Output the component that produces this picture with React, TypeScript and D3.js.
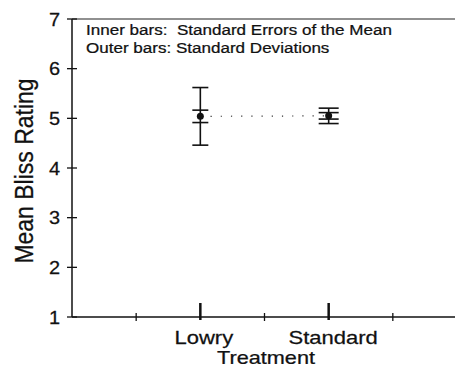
import React, { useEffect, useRef } from "react";
import * as d3 from "d3";

// data
const treatments = ["Lowry", "Standard"];
const treatmentPos = [2, 4];
const means = [5.04, 5.05];
const stdErrors = [0.125, 0.065];
const stdDevs = [0.58, 0.155];
const yTicks = [1, 2, 3, 4, 5, 6, 7];
const xMinorTicks = [1, 3, 5];
const noteLines = ["Inner bars:  Standard Errors of the Mean", "Outer bars: Standard Deviations"];

const App: React.FC = () => {
    const svgRef = useRef<SVGSVGElement | null>(null);

    useEffect(() => {
        const width = 455;
        const height = 368;
        const left = 72;
        const font = "'Liberation Sans', Arial, sans-serif";

        const svg = d3.select(svgRef.current);
        svg.selectAll("*").remove();
        svg.attr("width", width).attr("height", height);

        svg.append("rect").attr("width", width).attr("height", height).attr("fill", "#fff");

        const x = d3.scaleLinear().domain([0, 6]).range([left, 457]);
        const y = d3.scaleLinear().domain([1, 7]).range([317, 19]);

        // text stretched sideways like the scanned original
        const label = (
            tx: number,
            ty: number,
            txt: string,
            size: number,
            sx: number,
            anchor: string
        ) =>
            svg.append("text")
                .attr("transform", `translate(${tx},${ty}) scale(${sx},1)`)
                .attr("text-anchor", anchor)
                .style("font-family", font)
                .style("font-size", `${size}px`)
                .style("white-space", "pre")
                .attr("fill", "#111")
                .attr("stroke", "#111")
                .attr("stroke-width", 0.25)
                .text(txt);

        // frame: left, bottom, top
        svg.append("line")
            .attr("x1", left).attr("x2", left)
            .attr("y1", y(7)).attr("y2", y(1))
            .attr("stroke", "#111").attr("stroke-width", 1.5);
        svg.append("line")
            .attr("x1", left).attr("x2", width)
            .attr("y1", y(1)).attr("y2", y(1))
            .attr("stroke", "#111").attr("stroke-width", 1.5);
        svg.append("line")
            .attr("x1", left).attr("x2", width)
            .attr("y1", y(7)).attr("y2", y(7))
            .attr("stroke", "#222").attr("stroke-width", 1.2);

        // y ticks
        svg.append("g")
            .selectAll("line")
            .data(yTicks)
            .enter()
            .append("line")
            .attr("x1", left - 5).attr("x2", left + 5)
            .attr("y1", (d) => y(d)).attr("y2", (d) => y(d))
            .attr("stroke", "#111").attr("stroke-width", 1.3);
        yTicks.forEach((d) => label(60, y(d) + 6.5, String(d), 19, 1.05, "end"));

        // x minor ticks
        svg.append("g")
            .selectAll("line")
            .data(xMinorTicks)
            .enter()
            .append("line")
            .attr("x1", (d) => x(d)).attr("x2", (d) => x(d))
            .attr("y1", y(1) - 4).attr("y2", y(1) + 4)
            .attr("stroke", "#111").attr("stroke-width", 1.3);

        // x major ticks (treatments)
        svg.append("g")
            .selectAll("line")
            .data(treatmentPos)
            .enter()
            .append("line")
            .attr("x1", (d) => x(d)).attr("x2", (d) => x(d))
            .attr("y1", y(1) - 14).attr("y2", y(1) + 3)
            .attr("stroke", "#111").attr("stroke-width", 2.5);

        treatments.forEach((t, i) =>
            label(x(treatmentPos[i]) + (i === 0 ? 3.5 : 4.5), 344, t, 19, 1.16, "middle")
        );

        // axis titles
        label(266, 363.5, "Treatment", 17.5, 1.24, "middle");
        svg.append("text")
            .attr("transform", `translate(33,171) scale(1.1,1) rotate(-90)`)
            .attr("text-anchor", "middle")
            .style("font-family", font)
            .style("font-size", "23px")
            .attr("fill", "#111")
            .attr("stroke", "#111")
            .attr("stroke-width", 0.25)
            .text("Mean Bliss Rating");

        // note
        noteLines.forEach((t, i) => label(86, 35 + i * 18, t, 15.5, 1.1, "start"));

        // dotted connecting line
        const line = d3.line<number>()
            .x((d, i) => x(treatmentPos[i]))
            .y((d) => y(d));
        svg.append("path")
            .datum(means)
            .attr("d", line)
            .attr("fill", "none")
            .attr("stroke", "#333")
            .attr("stroke-width", 1.2)
            .attr("stroke-dasharray", "1.2,9");

        // error bars
        const bars = svg.selectAll(".err")
            .data(treatments)
            .enter()
            .append("g")
            .attr("class", "err");

        const capHalf = [8, 10];

        bars.append("line")
            .attr("x1", (d, i) => x(treatmentPos[i])).attr("x2", (d, i) => x(treatmentPos[i]))
            .attr("y1", (d, i) => y(means[i] + stdDevs[i]))
            .attr("y2", (d, i) => y(means[i] - stdDevs[i]))
            .attr("stroke", "#111").attr("stroke-width", 1.6);

        const caps = [
            (i: number) => means[i] + stdDevs[i],
            (i: number) => means[i] - stdDevs[i],
            (i: number) => means[i] + stdErrors[i],
            (i: number) => means[i] - stdErrors[i],
        ];
        caps.forEach((f) => {
            bars.append("line")
                .attr("x1", (d, i) => x(treatmentPos[i]) - capHalf[i])
                .attr("x2", (d, i) => x(treatmentPos[i]) + capHalf[i])
                .attr("y1", (d, i) => y(f(i)))
                .attr("y2", (d, i) => y(f(i)))
                .attr("stroke", "#111").attr("stroke-width", 1.6);
        });

        bars.append("circle")
            .attr("cx", (d, i) => x(treatmentPos[i]))
            .attr("cy", (d, i) => y(means[i]))
            .attr("r", 3.5)
            .attr("fill", "#111");
    }, []);

    return <svg ref={svgRef} style={{ position: "absolute", left: 0, top: 0 }} />;
};

export default App;
